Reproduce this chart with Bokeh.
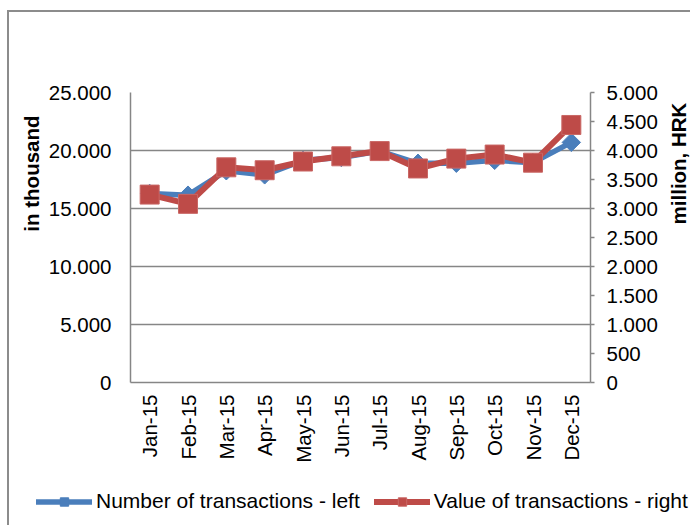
import math
from bokeh.plotting import figure
from bokeh.layouts import column, row
from bokeh.models import (FactorRange, Range1d, LinearAxis, FixedTicker, Legend,
                          LegendItem, Title, Label)
from bokeh.embed import file_html
from bokeh.resources import INLINE

# ---- data ----
months = ["Jan-15", "Feb-15", "Mar-15", "Apr-15", "May-15", "Jun-15",
          "Jul-15", "Aug-15", "Sep-15", "Oct-15", "Nov-15", "Dec-15"]
transactions_thousand = [16300, 16150, 18250, 17900, 19150, 19400,
                         19950, 18900, 18900, 19150, 18950, 20700]
value_million_hrk = [3240, 3080, 3710, 3660, 3810, 3900,
                     3990, 3690, 3860, 3930, 3790, 4440]
left_ticks = [0, 5000, 10000, 15000, 20000, 25000]
left_tick_labels = ["0", "5.000", "10.000", "15.000", "20.000", "25.000"]
right_ticks = [0, 500, 1000, 1500, 2000, 2500, 3000, 3500, 4000, 4500, 5000]
right_tick_labels = ["0", "500", "1.000", "1.500", "2.000", "2.500", "3.000",
                     "3.500", "4.000", "4.500", "5.000"]
left_title = "in thousand"
right_title = "million, HRK"
series_names = ["Number of transactions - left", "Value of transactions - right"]

# ---- style ----
FONT = "Liberation Sans"
TICK_SIZE = "20.5px"
GRAY = "#868686"
BLUE = "#4A7EBB"
RED = "#BE4B48"
RED_EDGE = "#C96764"
W_MAIN, W_RIGHT = 651, 30
H_MAIN, H_LEG = 470, 43

def no_align(fig):
    if "frame_align" in fig.properties():
        fig.frame_align = False

p = figure(width=W_MAIN, height=H_MAIN,
           x_range=FactorRange(*months),
           y_range=Range1d(0, 25000),
           output_backend="svg", toolbar_location=None, title=None,
           min_border_left=121, min_border_right=70,
           min_border_top=80, min_border_bottom=100)
no_align(p)
p.extra_y_ranges = {"val": Range1d(0, 5000)}

p.outline_line_color = None
p.background_fill_color = "white"
p.border_fill_color = "white"

p.xgrid.visible = False
p.ygrid.ticker = FixedTicker(ticks=left_ticks)
p.ygrid.grid_line_color = GRAY
p.ygrid.grid_line_width = 1.5

def style_axis(ax):
    ax.axis_line_color = GRAY
    ax.axis_line_width = 1.5
    ax.major_tick_line_color = GRAY
    ax.major_tick_line_width = 1.5
    ax.minor_tick_line_color = None
    ax.minor_tick_out = 0
    ax.minor_tick_in = 0
    ax.major_label_text_font = FONT
    ax.major_label_text_font_size = TICK_SIZE
    ax.major_label_text_color = "black"

yl = p.yaxis[0]
style_axis(yl)
yl.ticker = FixedTicker(ticks=left_ticks)
yl.major_label_overrides = dict(zip(left_ticks, left_tick_labels))
yl.major_tick_out = 0
yl.major_tick_in = 0
yl.major_label_standoff = 19

yr = LinearAxis(y_range_name="val", ticker=FixedTicker(ticks=right_ticks))
style_axis(yr)
yr.major_label_overrides = dict(zip(right_ticks, right_tick_labels))
yr.major_tick_out = 4
yr.major_tick_in = 0
yr.major_label_standoff = 12
p.add_layout(yr, "right")

xa = p.xaxis[0]
style_axis(xa)
xa.major_tick_out = 0
xa.major_tick_in = 0
xa.major_tick_line_color = None
xa.major_label_orientation = math.pi / 2
xa.major_label_standoff = 12

BLUE_LINE = dict(line_color=BLUE, line_width=5.5, line_join="round", line_cap="round")
BLUE_MARK = dict(marker="square", angle=math.pi / 4, size=13, fill_color=BLUE, line_color=BLUE)
RED_LINE = dict(line_color=RED, line_width=6, line_join="round", line_cap="round")
RED_MARK = dict(marker="square", size=19, fill_color=RED, line_color=RED_EDGE, line_width=1)

p.line(months, transactions_thousand, **BLUE_LINE)
p.scatter(months, transactions_thousand, **BLUE_MARK)
p.line(months, value_million_hrk, y_range_name="val", **RED_LINE)
p.scatter(months, value_million_hrk, y_range_name="val", **RED_MARK)

p.add_layout(Title(text=left_title, align="right", offset=23, standoff=6,
                   text_font=FONT, text_font_style="bold", text_font_size="20.5px",
                   text_color="black"), "left")

def blank_strip(w, h):
    f = figure(width=w, height=h, x_range=Range1d(0, w), y_range=Range1d(0, h),
               output_backend="svg", toolbar_location=None, title=None,
               x_axis_location=None, y_axis_location=None,
               min_border=0, min_border_left=0, min_border_right=0,
               min_border_top=0, min_border_bottom=0)
    no_align(f)
    f.outline_line_color = None
    f.xgrid.visible = False
    f.ygrid.visible = False
    f.border_fill_color = "white"
    return f

# ---- right axis title strip ----
pr = blank_strip(W_RIGHT, H_MAIN)
pr.add_layout(Label(x=18, y=H_MAIN - 151, text=right_title, angle=math.pi / 2,
                    text_align="center", text_baseline="middle",
                    text_font=FONT, text_font_style="bold", text_font_size="20.5px",
                    text_color="black"))

# ---- legend strip below the chart ----
pl = blank_strip(W_MAIN + W_RIGHT, H_LEG)
nan = [float("nan")]
bl = pl.line(nan, nan, **BLUE_LINE)
bm = pl.scatter(nan, nan, **BLUE_MARK)
rl = pl.line(nan, nan, **RED_LINE)
rm = pl.scatter(nan, nan, **RED_MARK)
legend = Legend(items=[LegendItem(label=series_names[0], renderers=[bl, bm]),
                       LegendItem(label=series_names[1], renderers=[rl, rm])],
                orientation="horizontal", location=(27, 12),
                glyph_width=56, glyph_height=21, label_standoff=4, spacing=14,
                padding=0, margin=0, border_line_color=None,
                background_fill_alpha=0,
                label_text_font=FONT, label_text_font_size="21px",
                label_text_color="black", label_text_baseline="middle")
pl.add_layout(legend)

layout = column(row(p, pr, spacing=0), pl, spacing=0,
                styles={"border-left": "2px solid #8c8c8c", "border-top": "2px solid #8c8c8c",
                        "margin-left": "7px", "margin-top": "10px"})

open("out.html", "w").write(file_html(layout, INLINE))
